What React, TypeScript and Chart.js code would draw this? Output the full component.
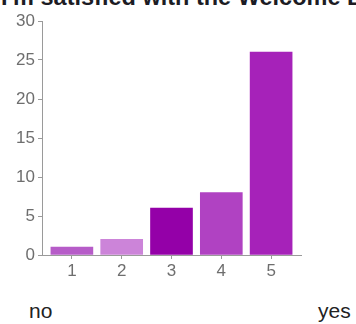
import React, { useEffect, useRef } from "react";
import { Chart, registerables } from "chart.js";

Chart.register(...registerables);

const TITLE = "I'm satisfied with the Welcome Booklet";
const CATEGORIES = [1, 2, 3, 4, 5];
const VALUES = [1, 2, 6, 8, 26];
const BAR_COLORS = ["#b65cc8", "#cc84d9", "#9400a8", "#b042c2", "#a622b9"];
const Y_MAX = 30;
const Y_STEP = 5;
const LOW_LABEL = "no";
const HIGH_LABEL = "yes";

export default function App() {
  const canvasRef = useRef<HTMLCanvasElement | null>(null);

  useEffect(() => {
    const canvas = canvasRef.current;
    if (!canvas) return;
    const chart = new Chart(canvas, {
      type: "bar",
      data: {
        datasets: [
          {
            data: CATEGORIES.map((c, i) => ({ x: c, y: VALUES[i] })),
            backgroundColor: BAR_COLORS,
            borderWidth: 0,
            barThickness: 42,
          },
        ],
      },
      options: {
        animation: false,
        responsive: false,
        maintainAspectRatio: false,
        layout: { padding: { top: 21, right: 55, left: 0, bottom: 0 } },
        plugins: { legend: { display: false }, tooltip: { enabled: false }, title: { display: false } },
        scales: {
          x: {
            type: "linear",
            offset: false,
            min: 0.4,
            max: 5.6,
            afterBuildTicks: (axis: any) => {
              axis.ticks = CATEGORIES.map((v) => ({ value: v }));
            },
            afterFit: (scale: any) => {
              scale.height = 35;
            },
            grid: { display: true, drawOnChartArea: false, offset: false, tickLength: 4, color: "#9a9a9a" },
            border: { display: true, color: "#9a9a9a" },
            ticks: {
              color: "#6e6e6e",
              padding: 2,
              font: { family: "'Liberation Sans', Arial, sans-serif", size: 17 },
              callback: (v: any) => String(v),
            },
          },
          y: {
            min: 0,
            max: Y_MAX,
            afterFit: (scale: any) => {
              scale.width = 42;
            },
            grid: { display: true, drawOnChartArea: false, tickLength: 4, color: "#9a9a9a" },
            border: { display: true, color: "#9a9a9a" },
            ticks: {
              stepSize: Y_STEP,
              color: "#6e6e6e",
              padding: 3,
              font: { family: "'Liberation Sans', Arial, sans-serif", size: 17 },
            },
          },
        },
      },
    });
    return () => chart.destroy();
  }, []);

  return (
    <div
      style={{
        position: "absolute",
        left: 0,
        top: 0,
        width: 356,
        height: 324,
        overflow: "hidden",
        background: "#fff",
        fontFamily: "'Liberation Sans', Arial, sans-serif",
      }}
    >
      <div
        style={{
          position: "absolute",
          left: 1,
          top: -16,
          whiteSpace: "nowrap",
          fontWeight: "bold",
          fontSize: 23.5,
          lineHeight: "26px",
          color: "#1c1c24",
        }}
      >
        {TITLE}
      </div>
      <canvas
        ref={canvasRef}
        width={356}
        height={290}
        style={{ position: "absolute", left: 0, top: 0, width: 356, height: 290 }}
      />
      <div style={{ position: "absolute", left: 29, top: 299, fontSize: 21, color: "#222", lineHeight: "24px" }}>
        {LOW_LABEL}
      </div>
      <div style={{ position: "absolute", left: 318, top: 299, fontSize: 21, color: "#222", lineHeight: "24px" }}>
        {HIGH_LABEL}
      </div>
    </div>
  );
}
